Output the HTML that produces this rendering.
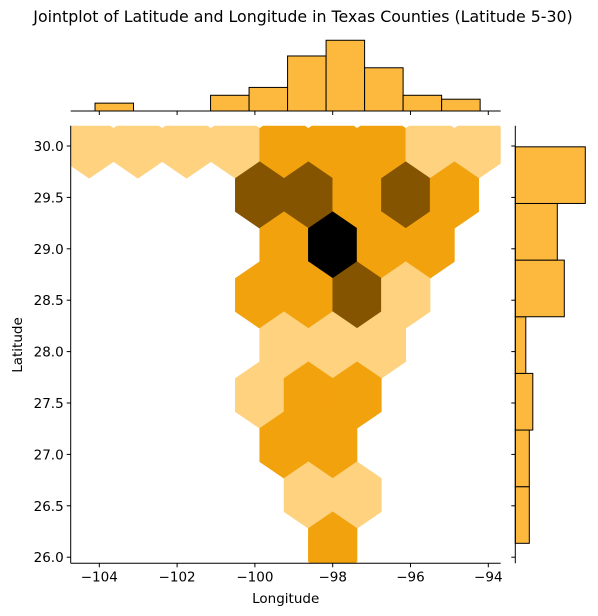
<!DOCTYPE html>
<html><head><meta charset="utf-8"><style>
body{margin:0;background:#fff}
svg{display:block;font-family:"DejaVu Sans","Liberation Sans",sans-serif}
</style></head><body>
<svg id="chart" width="598" height="616" viewBox="0 0 598 616" xmlns="http://www.w3.org/2000/svg">
<text x="303" y="22" text-anchor="middle" font-size="15.8">Jointplot of Latitude and Longitude in Texas Counties (Latitude 5-30)</text>
<defs><clipPath id="mainclip"><rect x="70.7" y="125.7" width="430" height="437.6"/></clipPath></defs>
<g id="hexes" clip-path="url(#mainclip)"></g>
<g id="axes"></g>
<g id="topHist"></g>
<g id="rightHist"></g>
<text x="285.7" y="603" text-anchor="middle" font-size="13.5">Longitude</text>
<text x="22" y="345" text-anchor="middle" font-size="13.5" transform="rotate(-90 22 345)">Latitude</text>
</svg>
<script>
const xTicks=[-104,-102,-100,-98,-96,-94];
const xTickLabels=["−104","−102","−100","−98","−96","−94"];
const yTicks=[30.0,29.5,29.0,28.5,28.0,27.5,27.0,26.5,26.0];
const yTickLabels=["30.0","29.5","29.0","28.5","28.0","27.5","27.0","26.5","26.0"];
// hex cells: [column index, row index, count level]
const hexCol=[-5,-4,-3,-2,-1,0,1,2,3, -2,-1,0,1,2, -1,0,1,2, -2,-1,0,1, -1,0,1, -2,-1,0, -1,0, -1,0, 0];
const hexRow=[2,2,2,2,2,2,2,2,2, 1,1,1,1,1, 0,0,0,0, -1,-1,-1,-1, -2,-2,-2, -3,-3,-3, -4,-4, -5,-5, -6];
const hexLevel=[1,1,1,1,2,2,2,1,1, 3,3,2,3,2, 2,4,2,2, 2,2,3,1, 1,1,1, 1,2,2, 2,2, 1,1, 2];
const lonBinStart=-104.11, lonBinWidth=0.99;
const lonCounts=[2,0,0,4,6,14,18,11,4,3];
const latBinStart=26.135, latBinWidth=0.551;
const latCounts=[4,4,5,3,14,12,20];

const NS='http://www.w3.org/2000/svg';
const X=v=>332.7+(v+98)*38.9;
const Y=v=>146+(30-v)*102.8;
const hexX0=-98, hexDX=1.252, hexY0=29.037, hexDY=0.4865;
const colors=["#fff","#fed27f","#f2a20c","#845400","#000000"];
function mk(tag,attrs,parent){const e=document.createElementNS(NS,tag);for(const k in attrs)e.setAttribute(k,attrs[k]);parent.appendChild(e);return e;}
const hexG=document.getElementById('hexes');
hexCol.forEach((c,k)=>{
  const r=hexRow[k];
  const lon=hexX0+(c+(Math.abs(r)%2?0.5:0))*hexDX, lat=hexY0+r*hexDY;
  const cx=X(lon), cy=Y(lat);
  const hw=(X(hexX0+hexDX)-X(hexX0))/2, d=Y(hexY0)-Y(hexY0+hexDY), h=d*2/3;
  const pts=[[cx,cy-h],[cx+hw,cy-h/2],[cx+hw,cy+h/2],[cx,cy+h],[cx-hw,cy+h/2],[cx-hw,cy-h/2]].map(p=>p.join(',')).join(' ');
  const p=mk('polygon',{points:pts,fill:colors[hexLevel[k]],stroke:colors[hexLevel[k]],'stroke-width':0.5},hexG);
  
  
});
const ax=document.getElementById('axes');
const L=70.7,R=500.7,T=125.7,B=563.3;
let e=mk('line',{x1:L,y1:T,x2:L,y2:B,stroke:'#000','stroke-width':1},ax);

e=mk('line',{x1:L,y1:B,x2:R,y2:B,stroke:'#000','stroke-width':1},ax);

xTicks.forEach((v,i)=>{
  const x=X(v);
  let t=mk('line',{x1:x,y1:B,x2:x,y2:B+4,stroke:'#000'},ax);
  
  t=mk('text',{x:x,y:B+18,'text-anchor':'middle','font-size':13.5},ax);t.textContent=xTickLabels[i];
  
  t=mk('line',{x1:x,y1:111,x2:x,y2:115,stroke:'#000'},ax);
  
});
yTicks.forEach((v,i)=>{
  const y=Y(v);
  let t=mk('line',{x1:L-4,y1:y,x2:L,y2:y,stroke:'#000'},ax);
  
  t=mk('text',{x:L-7,y:y+5,'text-anchor':'end','font-size':13.5},ax);t.textContent=yTickLabels[i];
  
  t=mk('line',{x1:511.3,y1:y,x2:515.3,y2:y,stroke:'#000'},ax);
  
});
const th=document.getElementById('topHist');
lonCounts.forEach((c,i)=>{
  const x0=X(lonBinStart+i*lonBinWidth), x1=X(lonBinStart+(i+1)*lonBinWidth), h=c*3.93;
  if(c>0){const r=mk('rect',{x:x0,y:111-h,width:x1-x0,height:h,fill:'#fdb93e',stroke:'#000','stroke-width':1},th);
  }
});
e=mk('line',{x1:L,y1:111,x2:R,y2:111,stroke:'#000'},th);

const rh=document.getElementById('rightHist');
latCounts.forEach((c,i)=>{
  const y0=Y(latBinStart+(i+1)*latBinWidth), y1=Y(latBinStart+i*latBinWidth), w=c*3.5;
  const r=mk('rect',{x:515.3,y:y0,width:w,height:y1-y0,fill:'#fdb93e',stroke:'#000','stroke-width':1},rh);
  
});
e=mk('line',{x1:515.3,y1:T,x2:515.3,y2:B,stroke:'#000'},rh);

</script>
</body></html>
